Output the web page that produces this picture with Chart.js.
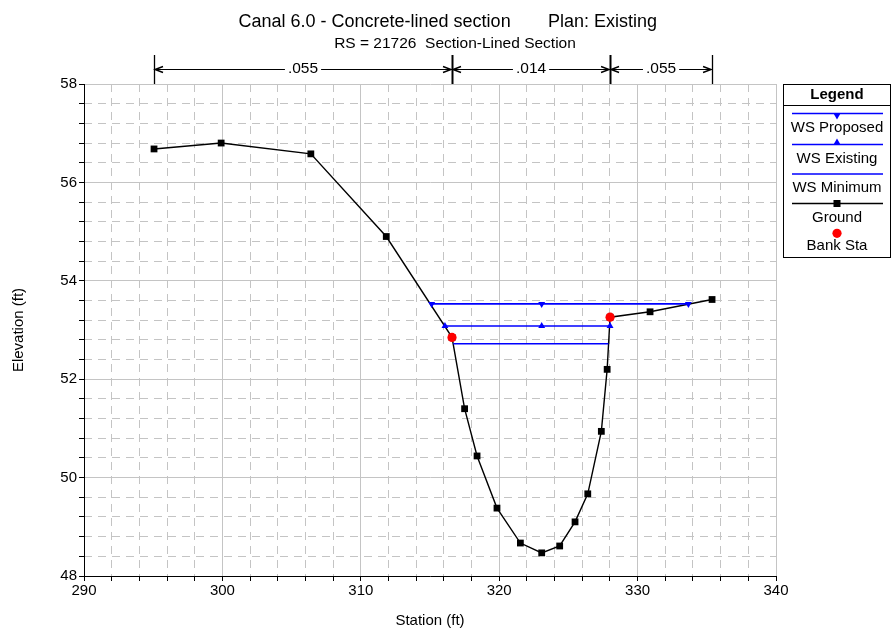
<!DOCTYPE html>
<html>
<head>
<meta charset="utf-8">
<script src="https://cdn.jsdelivr.net/npm/chart.js@4"></script>
<style>
  html, body { margin: 0; padding: 0; background: #fff; }
</style>
</head>
<body>
<canvas id="xsChart" width="895" height="631"></canvas>
<script>
// cross section data
const groundSta  = [295.06, 299.91, 306.39, 311.84, 316.59, 317.5, 318.4, 319.84, 321.53, 323.07, 324.37, 325.48, 326.4, 327.38, 327.8, 328.01, 330.9, 335.38];
const groundElev = [56.68, 56.80, 56.58, 54.90, 52.85, 51.40, 50.44, 49.38, 48.67, 48.47, 48.61, 49.10, 49.67, 50.94, 52.20, 53.26, 53.37, 53.62];

const bankSta  = [316.59, 328.01];
const bankElev = [52.85, 53.26];

const wsProposedSta  = [315.12, 323.07, 333.67];
const wsProposedElev = [53.53, 53.53, 53.53];
const wsExistingSta  = [316.08, 323.07, 328.01];
const wsExistingElev = [53.08, 53.08, 53.08];
const wsMinimumSta   = [316.68, 327.89];
const wsMinimumElev  = [52.72, 52.72];

// Manning's n breaks along the top
const nSta    = [295.06, 316.59, 328.01, 335.38];
const nValues = ['.055', '.014', '.055'];

const titleMain = 'Canal 6.0 - Concrete-lined section';
const titlePlan = 'Plan: Existing';
const subTitle  = 'RS = 21726  Section-Lined Section';

const FONT = "'Liberation Sans', Arial, sans-serif";
Chart.defaults.font.family = FONT;
Chart.defaults.color = '#000';

const pts = (xs, ys) => xs.map((x, i) => ({ x, y: ys[i] }));
const isMajor = (v, step) => Math.abs(v / step - Math.round(v / step)) < 1e-6;

const gridGray = '#c4c4c4';

// titles, n-value arrows and the boxed legend
const decorPlugin = {
  id: 'decor',
  afterDraw(chart) {
    const ctx = chart.ctx;
    const xs = chart.scales.x;
    const top = chart.chartArea.top;
    ctx.save();
    ctx.fillStyle = '#000';
    ctx.strokeStyle = '#000';

    ctx.font = '18px ' + FONT;
    ctx.textAlign = 'left';
    ctx.textBaseline = 'alphabetic';
    ctx.fillText(titleMain, 238.5, 27);
    ctx.fillText(titlePlan, 548, 27);
    ctx.font = '15.5px ' + FONT;
    ctx.textAlign = 'center';
    ctx.fillText(subTitle, 455, 48);

    // n value markers
    const ay = 69;
    nSta.forEach((s, i) => {
      const px = Math.round(xs.getPixelForValue(s)) + 0.5;
      ctx.lineWidth = (i === 0 || i === nSta.length - 1) ? 1.3 : 2;
      ctx.beginPath();
      ctx.moveTo(px, 55);
      ctx.lineTo(px, top);
      ctx.stroke();
    });
    ctx.font = '15.5px ' + FONT;
    ctx.textBaseline = 'middle';
    ctx.lineWidth = 1;
    for (let i = 0; i < nValues.length; i++) {
      const a = xs.getPixelForValue(nSta[i]) + 1;
      const b = xs.getPixelForValue(nSta[i + 1]) - 1;
      const mid = (a + b) / 2;
      const w = ctx.measureText(nValues[i]).width;
      ctx.fillText(nValues[i], mid, ay);
      ctx.beginPath();
      ctx.moveTo(a, ay + 0.5); ctx.lineTo(mid - w / 2 - 3, ay + 0.5);
      ctx.moveTo(mid + w / 2 + 3, ay + 0.5); ctx.lineTo(b, ay + 0.5);
      ctx.stroke();
      ctx.beginPath();
      ctx.moveTo(a + 8, ay - 2.5); ctx.lineTo(a, ay + 0.5); ctx.lineTo(a + 8, ay + 3.5);
      ctx.moveTo(b - 8, ay - 2.5); ctx.lineTo(b, ay + 0.5); ctx.lineTo(b - 8, ay + 3.5);
      ctx.lineWidth = 1.4;
      ctx.stroke();
      ctx.lineWidth = 1;
    }

    // legend box
    const L = 783.5, R = 890.5, T = 84.5, B = 257.5, cx = 837;
    ctx.lineWidth = 1;
    ctx.strokeRect(L, T, R - L, B - T);
    ctx.beginPath();
    ctx.moveTo(L, 105.5); ctx.lineTo(R, 105.5);
    ctx.stroke();
    ctx.font = 'bold 15px ' + FONT;
    ctx.fillText('Legend', cx, 95);

    const line = (y, color, w) => {
      ctx.strokeStyle = color; ctx.lineWidth = w;
      ctx.beginPath(); ctx.moveTo(792, y); ctx.lineTo(883, y); ctx.stroke();
    };
    const tri = (x, y, r, down) => {
      const d = down ? -1 : 1;
      ctx.beginPath();
      ctx.moveTo(x, y - d * r);
      ctx.lineTo(x + 0.866 * r, y + d * r / 2);
      ctx.lineTo(x - 0.866 * r, y + d * r / 2);
      ctx.closePath(); ctx.fill();
    };
    ctx.font = '15px ' + FONT;

    line(113.5, '#0000ff', 1.6);
    ctx.fillStyle = '#0000ff'; tri(cx, 115.5, 4, true);
    ctx.fillStyle = '#000'; ctx.fillText('WS Proposed', cx, 128);

    line(144.5, '#0000ff', 1.6);
    ctx.fillStyle = '#0000ff'; tri(cx, 142.5, 4, false);
    ctx.fillStyle = '#000'; ctx.fillText('WS Existing', cx, 158.5);

    line(174, '#0000ff', 1.6);
    ctx.fillText('WS Minimum', cx, 187.5);

    line(203.5, '#000', 1.4);
    ctx.fillRect(cx - 3.5, 203.5 - 3.5, 7, 7);
    ctx.fillText('Ground', cx, 217.5);

    ctx.fillStyle = '#ff0000';
    ctx.beginPath(); ctx.arc(cx, 233.3, 4.6, 0, Math.PI * 2); ctx.fill();
    ctx.fillStyle = '#000';
    ctx.fillText('Bank Sta', cx, 245.5);

    ctx.restore();
  }
};

new Chart(document.getElementById('xsChart').getContext('2d'), {
  type: 'scatter',
  data: {
    datasets: [
      {
        label: 'Bank Sta', data: pts(bankSta, bankElev), order: 0,
        showLine: false, pointStyle: 'circle', pointRadius: 4.6,
        pointBackgroundColor: '#ff0000', pointBorderColor: '#ff0000', pointBorderWidth: 0
      },
      {
        label: 'WS Proposed', data: pts(wsProposedSta, wsProposedElev), order: 1,
        showLine: true, borderColor: '#0000ff', borderWidth: 1.6,
        pointStyle: 'triangle', pointRotation: 180, pointRadius: 4,
        pointBackgroundColor: '#0000ff', pointBorderColor: '#0000ff', pointBorderWidth: 0
      },
      {
        label: 'WS Existing', data: pts(wsExistingSta, wsExistingElev), order: 2,
        showLine: true, borderColor: '#0000ff', borderWidth: 1.6,
        pointStyle: 'triangle', pointRadius: 4,
        pointBackgroundColor: '#0000ff', pointBorderColor: '#0000ff', pointBorderWidth: 0
      },
      {
        label: 'WS Minimum', data: pts(wsMinimumSta, wsMinimumElev), order: 3,
        showLine: true, borderColor: '#0000ff', borderWidth: 1.6, pointRadius: 0
      },
      {
        label: 'Ground', data: pts(groundSta, groundElev), order: 4,
        showLine: true, borderColor: '#000', borderWidth: 1.4,
        pointStyle: 'rect', pointRadius: 4.8,
        pointBackgroundColor: '#000', pointBorderColor: '#000', pointBorderWidth: 0
      }
    ]
  },
  options: {
    responsive: false,
    animation: false,
    events: [],
    layout: { padding: { top: 84, right: 119, bottom: 0, left: 0 } },
    plugins: { legend: { display: false }, tooltip: { enabled: false } },
    scales: {
      x: {
        type: 'linear', position: 'bottom', min: 290, max: 340,
        afterFit: s => { s.height = 55; },
        ticks: {
          stepSize: 2, autoSkip: false, maxRotation: 0, padding: 1,
          font: { size: 15 }, color: '#000',
          callback: v => isMajor(v, 10) ? String(Math.round(v)) : ''
        },
        grid: {
          color: c => isMajor(c.tick.value, 10) ? gridGray : 'rgba(0,0,0,0)',
          tickColor: '#000', tickLength: 5, lineWidth: 1
        },
        border: { color: '#000', width: 1 },
        title: { display: true, text: 'Station (ft)', font: { size: 15 }, color: '#000', padding: { top: 0, bottom: 1 } }
      },
      xMinor: {
        type: 'linear', position: 'bottom', min: 290, max: 340,
        afterFit: s => { s.height = 0; },
        ticks: { display: false, stepSize: 2 },
        grid: {
          color: c => isMajor(c.tick.value, 10) ? 'rgba(0,0,0,0)' : gridGray,
          drawTicks: false, lineWidth: 1
        },
        border: { display: false, dash: [8, 6] }
      },
      y: {
        type: 'linear', position: 'left', min: 48, max: 58,
        afterFit: s => { s.width = 84; },
        ticks: {
          stepSize: 0.4, autoSkip: false, padding: 2,
          font: { size: 15 }, color: '#000',
          callback: v => isMajor(v, 2) ? String(Math.round(v)) : ''
        },
        grid: {
          color: c => isMajor(c.tick.value, 2) ? gridGray : 'rgba(0,0,0,0)',
          tickColor: '#000', tickLength: 5, lineWidth: 1
        },
        border: { color: '#000', width: 1 },
        title: { display: true, text: 'Elevation (ft)', font: { size: 15 }, color: '#000', padding: { top: 10, bottom: 0 } }
      },
      yMinor: {
        type: 'linear', position: 'left', min: 48, max: 58,
        afterFit: s => { s.width = 0; },
        ticks: { display: false, stepSize: 0.4 },
        grid: {
          color: c => isMajor(c.tick.value, 2) ? 'rgba(0,0,0,0)' : gridGray,
          drawTicks: false, lineWidth: 1
        },
        border: { display: false, dash: [8, 6] }
      }
    }
  },
  plugins: [decorPlugin]
});
</script>
</body>
</html>
